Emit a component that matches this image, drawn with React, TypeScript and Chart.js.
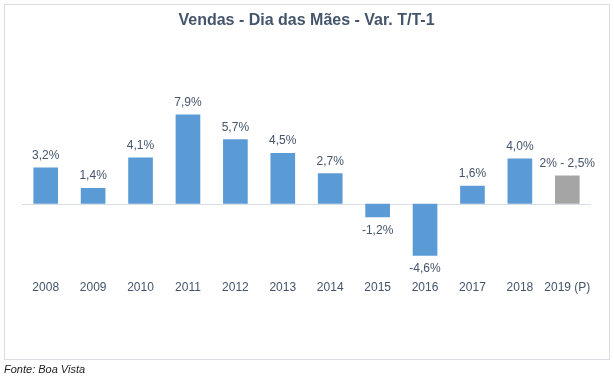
import React, { useEffect, useRef } from "react";
import { Chart, registerables } from "chart.js";

Chart.register(...registerables);

const categories = ["2008", "2009", "2010", "2011", "2012", "2013", "2014", "2015", "2016", "2017", "2018", "2019 (P)"];
const values = [3.2, 1.4, 4.1, 7.9, 5.7, 4.5, 2.7, -1.2, -4.6, 1.6, 4.0, 2.5];
const valueLabels = ["3,2%", "1,4%", "4,1%", "7,9%", "5,7%", "4,5%", "2,7%", "-1,2%", "-4,6%", "1,6%", "4,0%", "2% - 2,5%"];
const projectedFlags = [false, false, false, false, false, false, false, false, false, false, false, true];

const TITLE = "Vendas - Dia das Mães - Var. T/T-1";
const SOURCE = "Fonte: Boa Vista";
const FONT = "'Liberation Sans', Arial, sans-serif";
const TEXT_COLOR = "#44546A";

const framePlugin = {
  id: "frame",
  beforeDraw(chart: any) {
    const ctx = chart.ctx;
    ctx.save();
    ctx.fillStyle = "#ffffff";
    ctx.fillRect(0, 0, chart.width, chart.height);
    ctx.strokeStyle = "#D9DDE3";
    ctx.lineWidth = 1;
    ctx.strokeRect(4.5, 4.5, 605, 355);
    ctx.fillStyle = "#222222";
    ctx.font = `italic 11px ${FONT}`;
    ctx.textAlign = "left";
    ctx.textBaseline = "middle";
    ctx.fillText(SOURCE, 4, 370);
    // zero line
    const y0 = Math.round(chart.scales.y.getPixelForValue(0)) + 0.5;
    ctx.strokeStyle = "#D9DEE6";
    ctx.beginPath();
    ctx.moveTo(chart.chartArea.left, y0);
    ctx.lineTo(chart.chartArea.right, y0);
    ctx.stroke();
    ctx.restore();
  },
};

const labelPlugin = {
  id: "valueLabels",
  afterDatasetsDraw(chart: any) {
    const ctx = chart.ctx;
    const meta = chart.getDatasetMeta(0);
    ctx.save();
    ctx.fillStyle = TEXT_COLOR;
    ctx.font = `12px ${FONT}`;
    ctx.textAlign = "center";
    ctx.textBaseline = "middle";
    meta.data.forEach((bar: any, i: number) => {
      const v = values[i];
      const y = v >= 0 ? bar.y - 12 : bar.y + 13;
      ctx.fillText(valueLabels[i], bar.x, y);
    });
    ctx.restore();
  },
};

export default function App() {
  const ref = useRef<HTMLCanvasElement>(null);
  useEffect(() => {
    if (!ref.current) return;
    const chart = new Chart(ref.current, {
      type: "bar",
      data: {
        labels: categories,
        datasets: [
          {
            data: values,
            backgroundColor: projectedFlags.map((p) => (p ? "#A5A5A5" : "#5B9BD5")),
            barPercentage: 0.52,
            categoryPercentage: 1,
          },
        ],
      },
      options: {
        animation: false,
        responsive: false,
        maintainAspectRatio: false,
        layout: { padding: { left: 22, right: 23, top: 11, bottom: 74 } },
        plugins: {
          legend: { display: false },
          tooltip: { enabled: false },
          title: {
            display: true,
            text: TITLE,
            color: TEXT_COLOR,
            font: { family: FONT, size: 16, weight: "bold" },
            padding: { top: 0, bottom: 60.5 },
          },
        },
        scales: {
          x: {
            grid: { display: false, drawTicks: false },
            border: { display: false },
            ticks: { color: TEXT_COLOR, font: { family: FONT, size: 12 }, padding: 9, autoSkip: false, maxRotation: 0 },
          },
          y: {
            display: false,
            min: -6,
            max: 10,
          },
        },
      },
      plugins: [framePlugin, labelPlugin],
    });
    return () => chart.destroy();
  }, []);
  return (
    <div style={{ position: "absolute", left: 0, top: 0, width: 614, height: 378 }}>
      <canvas ref={ref} width={614} height={378} style={{ display: "block", width: 614, height: 378 }} />
    </div>
  );
}
